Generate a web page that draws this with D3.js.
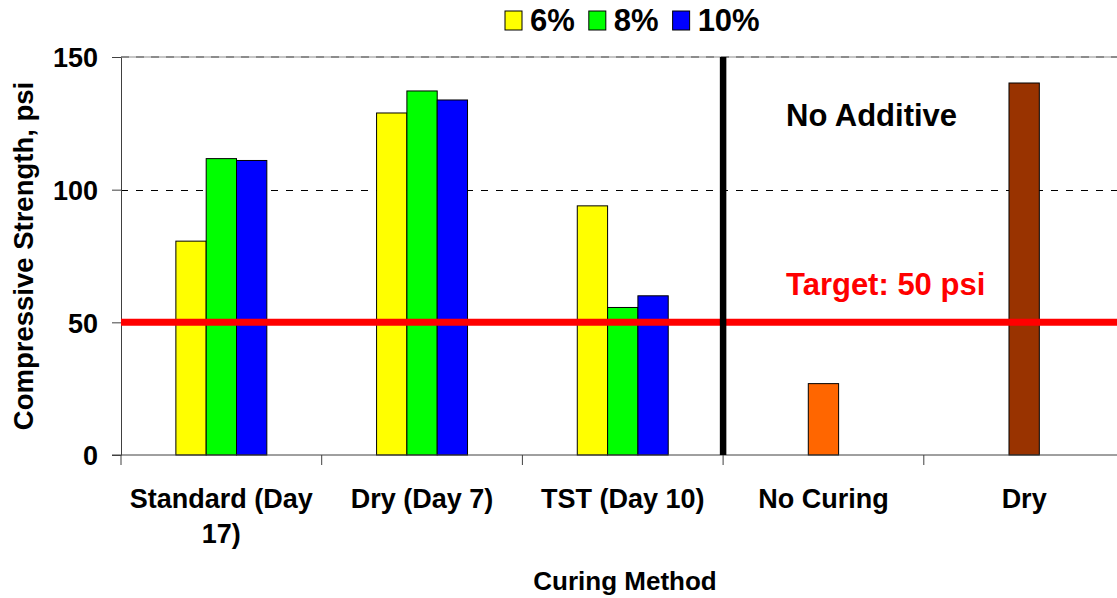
<!DOCTYPE html>
<html>
<head>
<meta charset="utf-8">
<script src="https://cdn.jsdelivr.net/npm/d3@7"></script>
<style>
  html, body { margin: 0; padding: 0; background: #fff; }
  svg { display: block; font-family: "Liberation Sans", Arial, Helvetica, sans-serif; font-weight: bold; }
</style>
</head>
<body>
<svg id="chart" width="1117" height="598"></svg>
<script>
// ---- data ----
const categories = ["Standard (Day 17)", "Dry (Day 7)", "TST (Day 10)", "No Curing", "Dry"];
const seriesNames = ["6%", "8%", "10%"];
const series6 = [80.6, 128.9, 93.9, null, null];
const series8 = [111.7, 137.2, 55.6, null, null];
const series10 = [111.0, 133.8, 60.0, null, null];
const noAdditive = [null, null, null, 26.9, 140.2];
const yTicks = [0, 50, 100, 150];
const targetValue = 50;
const targetLabel = "Target: 50 psi";
const noAdditiveLabel = "No Additive";
const yTitle = "Compressive Strength, psi";
const xTitle = "Curing Method";

// ---- styles ----
const seriesColors = {"6%": "#FFFF00", "8%": "#00FF00", "10%": "#0000FF"};
const noAdditiveColors = ["#FF6600", "#993300"];
const seriesValues = {"6%": series6, "8%": series8, "10%": series10};

const svg = d3.select("#chart");
svg.append("rect").attr("width", 1117).attr("height", 598).attr("fill", "#fff");

const pLeft = 121, pRight = 1124.5, pTop = 57, pBottom = 455;
const x = d3.scaleBand().domain(categories).range([pLeft, pRight]).padding(0);
const bw = x.bandwidth();
const y = d3.scaleLinear().domain([0, 150]).range([pBottom, pTop]);
const xi = d3.scaleBand().domain(seriesNames).range([0, bw]).paddingInner(0).paddingOuter(1.81);
const barW = xi.bandwidth();

// grid lines
const g = svg.append("g");
g.append("line").attr("x1", pLeft).attr("x2", 1117).attr("y1", y(150)).attr("y2", y(150))
  .attr("stroke", "#b4b4b4").attr("stroke-width", 1.5);
g.append("line").attr("x1", pLeft).attr("x2", 1117).attr("y1", y(150)).attr("y2", y(150))
  .attr("stroke", "#7a7a7a").attr("stroke-width", 1.5).attr("stroke-dasharray", "8,7");
[50, 100].forEach(v => {
  g.append("line").attr("x1", pLeft).attr("x2", 1117).attr("y1", Math.round(y(v)) + 0.5).attr("y2", Math.round(y(v)) + 0.5)
    .attr("stroke", "#000").attr("stroke-width", 1).attr("stroke-dasharray", "7,8");
});

// bars (grouped)
categories.forEach((c, i) => {
  seriesNames.forEach(s => {
    const v = seriesValues[s][i];
    if (v == null) return;
    svg.append("rect")
      .attr("x", x(c) + xi(s)).attr("y", y(v))
      .attr("width", barW).attr("height", y(0) - y(v))
      .attr("fill", seriesColors[s]).attr("stroke", "#000").attr("stroke-width", 1);
  });
  const v2 = noAdditive[i];
  if (v2 != null) {
    svg.append("rect")
      .attr("x", x(c) + bw / 2 - barW / 2).attr("y", y(v2))
      .attr("width", barW).attr("height", y(0) - y(v2))
      .attr("fill", noAdditiveColors[i - 3]).attr("stroke", "#000").attr("stroke-width", 1);
  }
});

// axes
const yAxis = d3.axisLeft(y).tickValues(yTicks).tickSize(9).tickSizeOuter(0).tickPadding(14);
const ya = svg.append("g").attr("transform", `translate(${pLeft},0)`).call(yAxis);
ya.select(".domain").attr("stroke", "#404040");
ya.selectAll(".tick line").attr("stroke", "#404040");
ya.selectAll(".tick text").attr("font-size", 27).attr("font-family", "Liberation Sans, Arial, sans-serif")
  .attr("font-weight", "bold").attr("fill", "#000").attr("dy", "0.36em");

// x baseline and boundary ticks
svg.append("line").attr("x1", pLeft - 9).attr("x2", 1117).attr("y1", pBottom).attr("y2", pBottom)
  .attr("stroke", "#404040").attr("stroke-width", 1);
const bounds = categories.map(c => x(c)).concat([x(categories[categories.length - 1]) + bw]);
bounds.forEach(b => {
  svg.append("line").attr("x1", b).attr("x2", b).attr("y1", pBottom).attr("y2", pBottom + 10)
    .attr("stroke", "#404040").attr("stroke-width", 1);
});

// category labels with wrap
categories.forEach(c => {
  const t = svg.append("text").attr("x", x(c) + bw / 2).attr("y", 508)
    .attr("text-anchor", "middle").attr("font-size", 27).attr("fill", "#000");
  const words = c.split(" ");
  let line = [];
  let tspan = t.append("tspan").attr("x", x(c) + bw / 2).attr("dy", 0);
  words.forEach(w => {
    line.push(w);
    tspan.text(line.join(" "));
    if (tspan.node().getComputedTextLength() > 192 && line.length > 1) {
      line.pop();
      tspan.text(line.join(" "));
      line = [w];
      tspan = t.append("tspan").attr("x", x(c) + bw / 2).attr("dy", 35).text(w);
    }
  });
});

// target line
svg.append("line").attr("x1", pLeft).attr("x2", 1117).attr("y1", y(targetValue)).attr("y2", y(targetValue))
  .attr("stroke", "#FF0000").attr("stroke-width", 7);

// separator line
const sepX = x("No Curing");
svg.append("line").attr("x1", sepX).attr("x2", sepX).attr("y1", y(150)).attr("y2", y(0))
  .attr("stroke", "#000").attr("stroke-width", 6.5);

// annotations
svg.append("text").attr("x", 786).attr("y", 126).attr("font-size", 31).attr("fill", "#000").text(noAdditiveLabel);
svg.append("text").attr("x", 786).attr("y", 295).attr("font-size", 31).attr("fill", "#FF0000").text(targetLabel);

// axis titles
svg.append("text").attr("transform", "rotate(-90)").attr("x", -(pTop + pBottom) / 2).attr("y", 33)
  .attr("text-anchor", "middle").attr("font-size", 27.5).attr("fill", "#000").text(yTitle);
svg.append("text").attr("x", 625).attr("y", 590).attr("text-anchor", "middle")
  .attr("font-size", 26).attr("fill", "#000").text(xTitle);

// legend
let lx = 505;
seriesNames.forEach(s => {
  svg.append("rect").attr("x", lx).attr("y", 11).attr("width", 17).attr("height", 19)
    .attr("fill", seriesColors[s]).attr("stroke", "#000").attr("stroke-width", 1);
  const t = svg.append("text").attr("x", lx + 25).attr("y", 31).attr("font-size", 31).attr("fill", "#000").text(s);
  lx = lx + 25 + t.node().getComputedTextLength() + 14;
});
</script>
</body>
</html>
